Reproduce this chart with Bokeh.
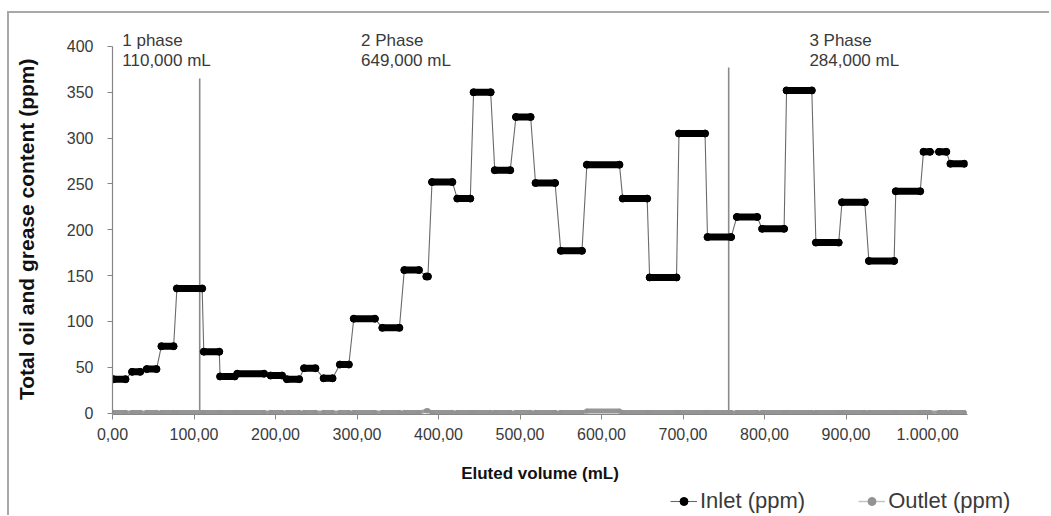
from bokeh.plotting import figure
from bokeh.layouts import column
from bokeh.models import Range1d, Label, Legend, LegendItem, FixedTicker
from bokeh.embed import file_html
from bokeh.resources import INLINE

# ---- data ----
# each inlet "step": first and last sample volume (mL) and the constant value (ppm)
step_start = [1, 24, 42, 60, 79, 112, 132, 153, 194, 214, 235, 259, 279, 296, 331, 358, 385,
              392, 423, 443, 469, 495, 519, 550, 582, 626, 659, 695, 730, 766, 797, 827, 863,
              895, 928, 961, 995, 1014, 1028]
step_end = [16, 34, 54, 75, 110, 131, 150, 186, 208, 229, 249, 270, 290, 322, 352, 376, 387,
            417, 439, 464, 488, 513, 543, 576, 622, 656, 692, 727, 759, 791, 824, 858, 891,
            923, 959, 991, 1003, 1023, 1045]
inlet_ppm = [37, 45, 48, 73, 136, 67, 40, 43, 41, 37, 49, 38, 53, 103, 93, 156, 149,
             252, 234, 350, 265, 323, 251, 177, 271, 234, 148, 305, 192, 214, 201, 352, 186,
             230, 166, 242, 285, 285, 272]
outlet_ppm = [0.8, 0.8, 0.8, 0.8, 0.8, 0.8, 0.8, 0.8, 0.8, 0.8, 0.8, 0.8, 0.8, 0.8, 0.8, 0.8, 2.5,
              0.8, 0.8, 0.8, 0.8, 0.8, 0.8, 0.8, 2.2, 0.8, 0.8, 0.8, 0.8, 0.8, 0.8, 0.8, 0.8,
              0.8, 0.8, 0.8, 0.8, 0.8, 0.8]

phase_boundary = [107, 756]
phase_line_top = [365, 377]
phase_names = ["1 phase", "2 Phase", "3 Phase"]
phase_volumes = ["110,000 mL", "649,000 mL", "284,000 mL"]
phase_label_x = [12, 305, 855]

x_ticks = [0, 100, 200, 300, 400, 500, 600, 700, 800, 900, 1000]
x_tick_labels = ["0,00", "100,00", "200,00", "300,00", "400,00", "500,00", "600,00",
                 "700,00", "800,00", "900,00", "1.000,00"]
y_ticks = [0, 50, 100, 150, 200, 250, 300, 350, 400]

FONT = "Liberation Sans"
TXT = "#3a3a3a"
AX = "#868686"
IN_LINE = "#6a6a6a"
OUT_LINE = "#9e9e9e"
OUT_PT = "#939393"

p = figure(width=1040, height=473, output_backend="svg", toolbar_location=None,
           x_range=Range1d(0, 1049), y_range=Range1d(-1.5, 421.7),
           min_border_left=103, min_border_right=82, min_border_top=13, min_border_bottom=72,
           background_fill_color="white", border_fill_color="white")
p.outline_line_color = None
p.grid.visible = False

# line through step end points (connectors)
inlet_x = [v for s, e in zip(step_start, step_end) for v in (s, e)]
inlet_y = [v for v in inlet_ppm for _ in (0, 1)]
outlet_y = [v for v in outlet_ppm for _ in (0, 1)]

# phase separators
p.segment(x0=phase_boundary, y0=[0, 0], x1=phase_boundary, y1=phase_line_top,
          line_color="#8a8a8a", line_width=1.6)

# outlet series
p.line(inlet_x, outlet_y, line_color=OUT_LINE, line_width=4)
p.segment(x0=step_start, y0=outlet_ppm, x1=step_end, y1=outlet_ppm,
          line_color="#959595", line_width=5, line_cap="round")
p.scatter(inlet_x, outlet_y, size=4, marker="circle", fill_color=OUT_PT, line_color=OUT_PT)

# inlet series
p.line(inlet_x, inlet_y, line_color=IN_LINE, line_width=1.1)
p.segment(x0=step_start, y0=inlet_ppm, x1=step_end, y1=inlet_ppm,
          line_color="black", line_width=7, line_cap="round")
p.scatter(inlet_x, inlet_y, size=7, marker="circle", fill_color="black", line_color="black")

# phase annotations
for name, vol, lx in zip(phase_names, phase_volumes, phase_label_x):
    p.add_layout(Label(x=lx, y=416.5, text=name, text_baseline="top", text_font=FONT,
                       text_font_size="17px", text_color=TXT))
    p.add_layout(Label(x=lx, y=394.8, text=vol, text_baseline="top", text_font=FONT,
                       text_font_size="17px", text_color=TXT))

# axes
xa = p.xaxis[0]
xa.ticker = FixedTicker(ticks=x_ticks)
xa.major_label_overrides = dict(zip(x_ticks, x_tick_labels))
xa.axis_label = "Eluted volume (mL)"
ya = p.yaxis[0]
ya.ticker = FixedTicker(ticks=y_ticks)
ya.bounds = (0, 400)
# trailing no-break spaces nudge the centred title down onto the 0-400 span
ya.axis_label = "Total oil and grease content (ppm)\u00a0\u00a0\u00a0"
for ax in (xa, ya):
    ax.axis_line_color = AX
    ax.axis_line_width = 1.2
    ax.major_tick_line_color = AX
    ax.major_tick_out = 5
    ax.major_tick_in = 0
    ax.minor_tick_line_color = None
    ax.major_label_text_font = FONT
    ax.major_label_text_font_size = "16px"
    ax.major_label_text_color = TXT
    ax.axis_label_text_font = FONT
    ax.axis_label_text_font_style = "bold"
    ax.axis_label_text_color = "#111111"
xa.axis_label_text_font_size = "17px"
ya.axis_label_text_font_size = "21px"
xa.major_label_standoff = 8
xa.axis_label_standoff = 21
ya.major_label_standoff = 14
ya.axis_label_standoff = 26

# legend strip below the chart (series drawn out of its view, only the legend shows)
lg = figure(width=1040, height=29, output_backend="svg", toolbar_location=None,
            x_range=Range1d(0, 1049), y_range=Range1d(1000, 1001),
            x_axis_type=None, y_axis_type=None, min_border=0,
            min_border_left=0, min_border_right=0, min_border_top=0, min_border_bottom=0,
            background_fill_color="white", border_fill_color="white")
if "frame_align" in lg.properties():
    lg.frame_align = False
lg.outline_line_color = None
lg.grid.visible = False
lg_in_line = lg.line(inlet_x, inlet_y, line_color=IN_LINE, line_width=1.1)
lg_in_pt = lg.scatter(inlet_x, inlet_y, size=7, marker="circle", fill_color="black",
                      line_color="black")
lg_out_line = lg.line(inlet_x, outlet_y, line_color="#c4c4c4", line_width=1.5)
lg_out_pt = lg.scatter(inlet_x, outlet_y, size=4, marker="circle", fill_color=OUT_PT,
                       line_color=OUT_PT)
legend = Legend(items=[LegendItem(label="Inlet (ppm)", renderers=[lg_in_line, lg_in_pt]),
                       LegendItem(label="Outlet (ppm)", renderers=[lg_out_line, lg_out_pt])],
                orientation="horizontal", location=(661, 1),
                border_line_color=None, background_fill_alpha=0,
                label_text_font=FONT, label_text_font_size="22px", label_text_color=TXT,
                glyph_width=27, glyph_height=20, label_standoff=3, spacing=53,
                padding=0, margin=0)
lg.add_layout(legend, "center")

page = column(p, lg, spacing=0)
page.styles = {"border-top": "2px solid #a8a8a8", "border-left": "2px solid #a8a8a8",
               "margin-left": "7px", "margin-top": "11px"}

open("out.html", "w").write(file_html(page, INLINE))
